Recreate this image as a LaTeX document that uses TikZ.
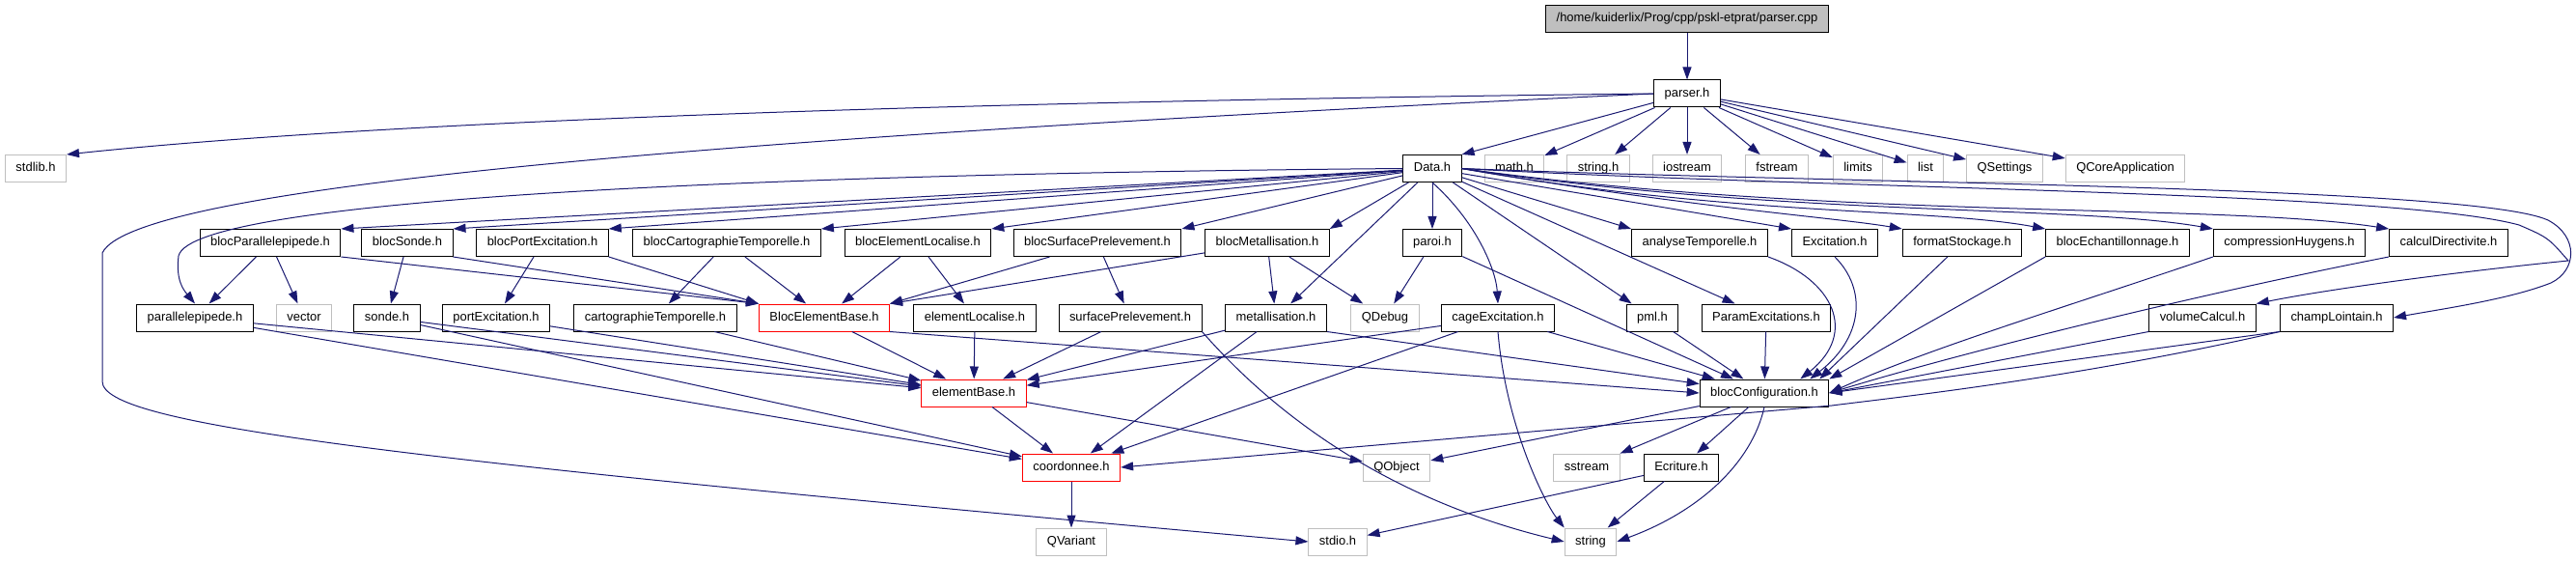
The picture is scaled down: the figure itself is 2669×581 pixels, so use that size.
\documentclass[tikz,border=0pt]{standalone}
\usepackage{fontspec}
\setmainfont{Liberation Sans}
\usepackage{xcolor}
\usetikzlibrary{arrows.meta}

\definecolor{midblue}{RGB}{25,25,112}
\definecolor{grey75}{RGB}{191,191,191}

\tikzset{
  hdr/.style={draw=black, line width=1bp, fill=white, inner xsep=11bp, inner ysep=0pt,
    minimum height=28bp, text height=9.5bp, text depth=3bp, font=\fontsize{13}{15}\selectfont},
  sysh/.style={hdr, draw=grey75},
  trunc/.style={hdr, draw=red},
  root/.style={hdr, fill=grey75},
  dep/.style={draw=midblue, line width=1bp, -{Triangle[length=13bp,width=9bp]}},
}

\begin{document}
\begin{tikzpicture}[x=1bp, y=-1bp]
    \useasboundingbox (0,0) rectangle (2669,581);

    % Source file and its header
    \node[root] (cpp) at (1748,19.5) {/home/kuiderlix/Prog/cpp/pskl-etprat/parser.cpp};
    \node[hdr] (parserh) at (1748,97) {parser.h};

    % Headers of parser.h
    \node[sysh] (stdlib) at (37,174.5) {stdlib.h};
    \node[hdr] (datah) at (1484,174.5) {Data.h};
    \node[sysh] (mathh) at (1569,174.5) {math.h};
    \node[sysh] (stringh) at (1656,174.5) {string.h};
    \node[sysh] (iostream) at (1748,174.5) {iostream};
    \node[sysh] (fstream) at (1841,174.5) {fstream};
    \node[sysh] (limits) at (1925,174.5) {limits};
    \node[sysh] (list) at (1995,174.5) {list};
    \node[sysh] (qsettings) at (2077,174.5) {QSettings};
    \node[sysh] (qcoreapp) at (2202,174.5) {QCoreApplication};

    % Headers of Data.h
    \node[hdr] (bpar) at (280,251.5) {blocParallelepipede.h};
    \node[hdr] (bsonde) at (422,251.5) {blocSonde.h};
    \node[hdr] (bport) at (562,251.5) {blocPortExcitation.h};
    \node[hdr] (bcarto) at (753,251.5) {blocCartographieTemporelle.h};
    \node[hdr] (belem) at (951,251.5) {blocElementLocalise.h};
    \node[hdr] (bsurf) at (1137,251.5) {blocSurfacePrelevement.h};
    \node[hdr] (bmetal) at (1313,251.5) {blocMetallisation.h};
    \node[hdr] (paroi) at (1484,251.5) {paroi.h};
    \node[hdr] (analyse) at (1761,251.5) {analyseTemporelle.h};
    \node[hdr] (excit) at (1901,251.5) {Excitation.h};
    \node[hdr] (format) at (2033,251.5) {formatStockage.h};
    \node[hdr] (bechant) at (2194,251.5) {blocEchantillonnage.h};
    \node[hdr] (compress) at (2372,251.5) {compressionHuygens.h};
    \node[hdr] (calcul) at (2537,251.5) {calculDirectivite.h};

    \node[hdr] (par) at (202,329) {parallelepipede.h};
    \node[sysh] (vector) at (315,329) {vector};
    \node[hdr] (sonde) at (401,329) {sonde.h};
    \node[hdr] (port) at (514,329) {portExcitation.h};
    \node[hdr] (carto) at (679,329) {cartographieTemporelle.h};
    \node[trunc] (blocbase) at (854,329) {BlocElementBase.h};
    \node[hdr] (elemloc) at (1010,329) {elementLocalise.h};
    \node[hdr] (surf) at (1171,329) {surfacePrelevement.h};
    \node[hdr] (metal) at (1322,329) {metallisation.h};
    \node[sysh] (qdebug) at (1435,329) {QDebug};
    \node[hdr] (cage) at (1552,329) {cageExcitation.h};
    \node[hdr] (pml) at (1712,329) {pml.h};
    \node[hdr] (paramex) at (1830,329) {ParamExcitations.h};
    \node[hdr] (volume) at (2282,329) {volumeCalcul.h};
    \node[hdr] (champ) at (2421,329) {champLointain.h};

    % Lower headers
    \node[trunc] (elembase) at (1009,407) {elementBase.h};
    \node[hdr] (bconf) at (1828,407) {blocConfiguration.h};
    \node[trunc] (coord) at (1110,484) {coordonnee.h};
    \node[sysh] (qobject) at (1447,484) {QObject};
    \node[sysh] (sstream) at (1644,484) {sstream};
    \node[hdr] (ecriture) at (1742,484) {Ecriture.h};
    \node[sysh] (qvariant) at (1110,561) {QVariant};
    \node[sysh] (stdio) at (1386,561) {stdio.h};
    \node[sysh] (string) at (1648,561) {string};

    % Includes of parser.cpp and parser.h
    \draw[dep] (cpp) -- (parserh);
    \draw[dep] (parserh.west) .. controls (1000,105) and (400,125) .. (stdlib.north east);
    \draw[dep] (parserh.west) .. controls (800,140) and (140,190) .. (106,262) -- (106,395)
        .. controls (106,440) and (400,475) .. (stdio.west);
    \draw[dep] (parserh) -- (datah.north east);
    \draw[dep] (parserh) -- (mathh);
    \draw[dep] (parserh) -- (stringh);
    \draw[dep] (parserh) -- (iostream);
    \draw[dep] (parserh) -- (fstream);
    \draw[dep] (parserh) -- (limits);
    \draw[dep] (parserh) -- (list);
    \draw[dep] (parserh) -- (qsettings);
    \draw[dep] (parserh) -- (qcoreapp);

    % Includes of Data.h
    \draw[dep] (datah.west) .. controls (800,180) and (200,205) .. (185,265)
        .. controls (182,290) and (190,300) .. (par.north);
    \draw[dep] (datah) -- (bpar.north east);
    \draw[dep] (datah) -- (bsonde.north east);
    \draw[dep] (datah) -- (bport.north east);
    \draw[dep] (datah) -- (bcarto.north east);
    \draw[dep] (datah) -- (belem.north east);
    \draw[dep] (datah) -- (bsurf.north east);
    \draw[dep] (datah) -- (bmetal.north east);
    \draw[dep] (datah) -- (paroi);
    \draw[dep] (datah) -- (metal);
    \draw[dep] (datah.south) .. controls (1530,230) and (1550,280) .. (cage.north);
    \draw[dep] (datah) -- (pml);
    \draw[dep] (datah) -- (paramex);
    \draw[dep] (datah) -- (analyse.north west);
    \draw[dep] (datah) -- (excit.north west);
    \draw[dep] (datah.east) .. controls (1750,215) and (1900,225) .. (format.north west);
    \draw[dep] (datah.east) .. controls (1800,225) and (2000,215) .. (bechant.north west);
    \draw[dep] (datah.east) .. controls (1850,225) and (2150,212) .. (compress.north west);
    \draw[dep] (datah.east) .. controls (1900,228) and (2300,210) .. (calcul.north west);
    \draw[dep] (datah.east) .. controls (1900,196) and (2480,198) .. (2610,233)
        .. controls (2640,246) .. (2661,270) .. controls (2560,280) and (2420,298) .. (volume.north east);
    \draw[dep] (datah.east) .. controls (1900,190) and (2560,192) .. (2640,228)
        .. controls (2672,245) and (2670,280) .. (2643,293)
        .. controls (2600,310) and (2530,320) .. (champ.east);

    % Includes of the bloc headers
    \draw[dep] (bpar) -- (par);
    \draw[dep] (bpar) -- (vector);
    \draw[dep] (bpar.south east) -- (blocbase.north west);
    \draw[dep] (bsonde) -- (sonde);
    \draw[dep] (bsonde.south east) -- (blocbase.north west);
    \draw[dep] (bport) -- (port);
    \draw[dep] (bport.south east) -- (blocbase.north west);
    \draw[dep] (bcarto) -- (carto);
    \draw[dep] (bcarto) -- (blocbase);
    \draw[dep] (belem) -- (blocbase);
    \draw[dep] (belem) -- (elemloc);
    \draw[dep] (bsurf) -- (blocbase.north east);
    \draw[dep] (bsurf) -- (surf);
    \draw[dep] (bmetal) -- (blocbase.north east);
    \draw[dep] (bmetal) -- (metal);
    \draw[dep] (bmetal) -- (qdebug);
    \draw[dep] (paroi) -- (qdebug);
    \draw[dep] (paroi) -- (bconf);

    % Includes of the lower headers
    \draw[dep] (par) -- (elembase);
    \draw[dep] (par) -- (coord);
    \draw[dep] (sonde) -- (elembase);
    \draw[dep] (sonde) -- (coord);
    \draw[dep] (port) -- (elembase);
    \draw[dep] (carto) -- (elembase);
    \draw[dep] (blocbase) -- (elembase);
    \draw[dep] (blocbase.south east) -- (bconf.west);
    \draw[dep] (elemloc) -- (elembase);
    \draw[dep] (surf) -- (elembase);
    \draw[dep] (surf.south east) .. controls (1330,440) and (1450,520) .. (string.west);
    \draw[dep] (metal) -- (elembase);
    \draw[dep] (metal) -- (coord);
    \draw[dep] (metal.south east) -- (bconf);
    \draw[dep] (cage) -- (elembase);
    \draw[dep] (cage) -- (coord);
    \draw[dep] (cage) -- (bconf);
    \draw[dep] (cage.south) .. controls (1560,440) and (1600,520) .. (string.north west);
    \draw[dep] (pml) -- (bconf);
    \draw[dep] (paramex) -- (bconf);
    \draw[dep] (analyse.south east) .. controls (1900,290) and (1925,345) .. ([xshift=-30bp]bconf.north east);
    \draw[dep] (excit.south) .. controls (1935,300) and (1930,350) .. ([xshift=-20bp]bconf.north east);
    \draw[dep] (format) -- ([xshift=-10bp]bconf.north east);
    \draw[dep] (bechant.south west) -- (bconf.north east);
    \draw[dep] (compress.south west) .. controls (2150,315) and (2000,360) .. (bconf.east);
    \draw[dep] (calcul.south west) .. controls (2300,300) and (2050,360) .. (bconf.east);
    \draw[dep] (volume.south west) -- (bconf.east);
    \draw[dep] (champ.south west) -- (bconf.east);
    \draw[dep] (champ.south west) .. controls (2150,392) and (1960,412) .. (1898,420) -- (coord.east);

    % Bottom of the graph
    \draw[dep] (elembase) -- (coord);
    \draw[dep] (elembase) -- (qobject);
    \draw[dep] (coord) -- (qvariant);
    \draw[dep] (bconf) -- (qobject);
    \draw[dep] (bconf) -- (sstream);
    \draw[dep] (bconf) -- (ecriture);
    \draw[dep] (bconf.south) .. controls (1815,480) and (1760,530) .. (string.east);
    \draw[dep] (ecriture) -- (stdio);
    \draw[dep] (ecriture) -- (string);
\end{tikzpicture}
\end{document}
